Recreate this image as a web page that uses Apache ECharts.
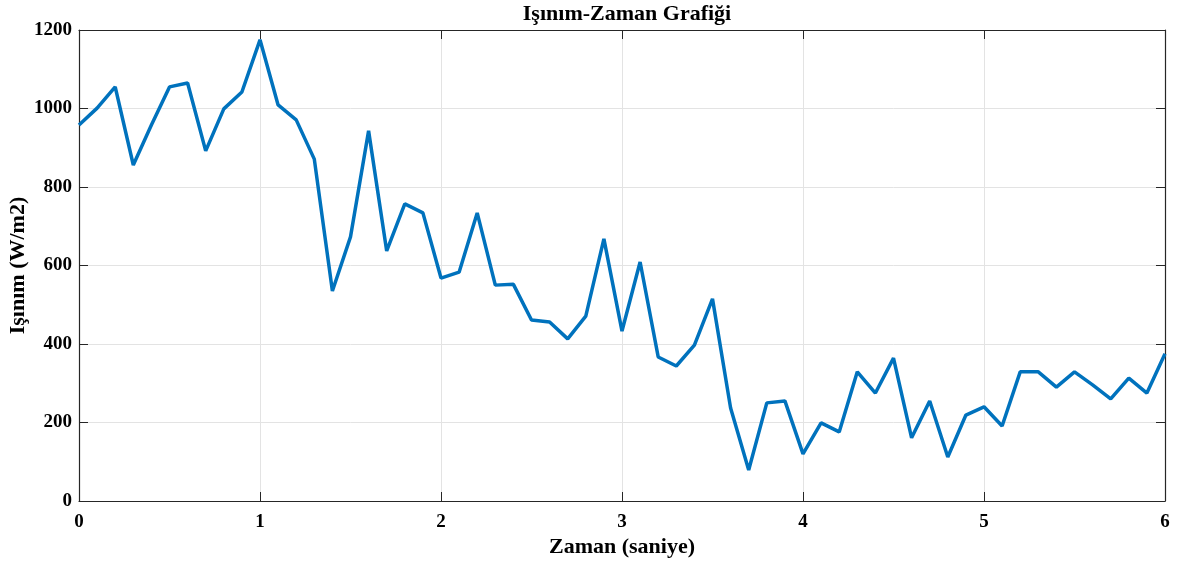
<!DOCTYPE html>
<html>
<head>
<meta charset="utf-8">
<script src="https://cdn.jsdelivr.net/npm/echarts@6/dist/echarts.min.js"></script>
<style>
  html, body { margin: 0; padding: 0; background: #fff; }
</style>
</head>
<body>
<div id="chart" style="width:1181px;height:562px;"></div>
<script>
// zaman (s)
const times = [0.0,0.1,0.2,0.3,0.4,0.5,0.6,0.7,0.8,0.9,
  1.0,1.1,1.2,1.3,1.4,1.5,1.6,1.7,1.8,1.9,
  2.0,2.1,2.2,2.3,2.4,2.5,2.6,2.7,2.8,2.9,
  3.0,3.1,3.2,3.3,3.4,3.5,3.6,3.7,3.8,3.9,
  4.0,4.1,4.2,4.3,4.4,4.5,4.6,4.7,4.8,4.9,
  5.0,5.1,5.2,5.3,5.4,5.5,5.6,5.7,5.8,5.9,6.0]
// ışınım (W/m2)
const irradiance = [958,1001,1055,856,958,1055,1065,892,999,1042,
  1175,1009,971,871,535,673,943,637,757,734,
  568,583,734,550,552,461,456,413,471,668,
  433,609,367,344,397,515,237,79,250,255,
  120,199,176,329,275,364,161,255,112,219,
  240,191,329,329,290,329,296,260,313,275,375]
const xTicks = [0,1,2,3,4,5,6]
const yTicks = [0,200,400,600,800,1000,1200]

const fontFam = '"Liberation Serif", "Times New Roman", serif'
const axisCol = '#262626'

let points = []
for (let i = 0; i < times.length; i++) points.push([times[i], irradiance[i]])

let myChart = echarts.init(document.getElementById('chart'))
myChart.setOption({
  animation: false,
  title: {
    text: 'Işınım-Zaman Grafiği',
    left: 622,
    textAlign: 'center',
    top: -2,
    textStyle: { fontFamily: fontFam, fontWeight: 'bold', fontSize: 22, color: '#000' }
  },
  grid: {
    left: 79, right: 16, top: 30, bottom: 61,
    outerBoundsMode: 'none', containLabel: false
  },
  xAxis: [{
    type: 'value',
    min: xTicks[0], max: xTicks[xTicks.length - 1], interval: 1,
    name: 'Zaman (saniye)',
    nameLocation: 'middle',
    nameGap: 35,
    nameMoveOverlap: false,
    nameTextStyle: { fontFamily: fontFam, fontWeight: 'bold', fontSize: 22, color: '#000' },
    axisLine: { show: true, lineStyle: { color: axisCol, width: 1.2 } },
    axisTick: { show: true, inside: true, length: 9, lineStyle: { color: axisCol } },
    axisLabel: { margin: 12, fontFamily: fontFam, fontWeight: 'bold', fontSize: 19, color: '#000',
      formatter: v => String(v) },
    splitLine: { show: true, lineStyle: { color: '#e3e3e3', width: 1 } }
  }, {
    type: 'value', position: 'top',
    min: xTicks[0], max: xTicks[xTicks.length - 1], interval: 1,
    axisLine: { show: true, onZero: false, lineStyle: { color: axisCol, width: 1.2 } },
    axisTick: { show: true, inside: true, length: 9, lineStyle: { color: axisCol } },
    axisLabel: { show: false },
    splitLine: { show: false }
  }],
  yAxis: [{
    type: 'value',
    min: yTicks[0], max: yTicks[yTicks.length - 1], interval: 200,
    name: 'Işınım (W/m2)',
    nameLocation: 'middle',
    nameGap: 50,
    nameMoveOverlap: false,
    nameTextStyle: { fontFamily: fontFam, fontWeight: 'bold', fontSize: 22, color: '#000' },
    axisLine: { show: true, lineStyle: { color: axisCol, width: 1.2 } },
    axisTick: { show: true, inside: true, length: 9, lineStyle: { color: axisCol } },
    axisLabel: { margin: 7, fontFamily: fontFam, fontWeight: 'bold', fontSize: 19, color: '#000',
      formatter: v => String(v) },
    splitLine: { show: true, lineStyle: { color: '#e3e3e3', width: 1 } }
  }, {
    type: 'value', position: 'right',
    min: yTicks[0], max: yTicks[yTicks.length - 1], interval: 200,
    axisLine: { show: true, onZero: false, lineStyle: { color: axisCol, width: 1.2 } },
    axisTick: { show: true, inside: true, length: 9, lineStyle: { color: axisCol } },
    axisLabel: { show: false },
    splitLine: { show: false }
  }],
  series: [{
    type: 'line',
    data: points,
    showSymbol: false,
    lineStyle: { color: '#0072BD', width: 3.5 },
    itemStyle: { color: '#0072BD' }
  }]
})
</script>
</body>
</html>
